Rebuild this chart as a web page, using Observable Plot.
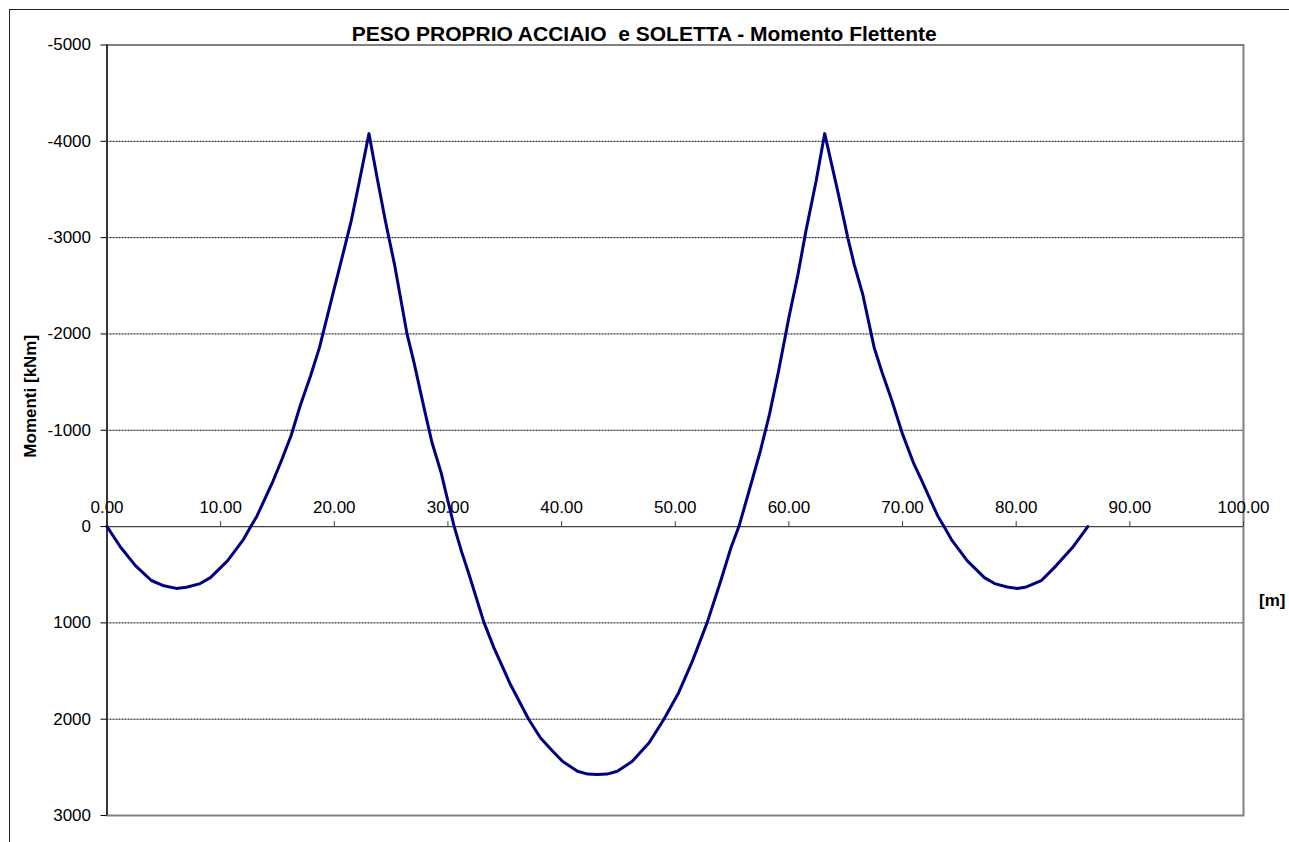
<!DOCTYPE html>
<html>
<head>
<meta charset="utf-8">
<script src="https://cdn.jsdelivr.net/npm/d3@7"></script>
<script src="https://cdn.jsdelivr.net/npm/@observablehq/plot@0.6"></script>
<style>
  html, body { margin: 0; padding: 0; background: #fff; }
  #wrap { position: relative; width: 1289px; height: 842px; overflow: hidden; }
  #outer { position: absolute; left: 9px; top: 9px; width: 1400px; height: 1000px; border: 1px solid #222; box-sizing: border-box; }
  #chart { position: absolute; left: 0; top: 0; }
</style>
</head>
<body>
<div id="wrap"><div id="outer"></div><div id="chart"></div></div>
<script>
// Bending moment under self-weight of steel girder and slab (three-span beam)
const titleText = "PESO PROPRIO ACCIAIO  e SOLETTA - Momento Flettente";
const yLabel = "Momenti [kNm]";
const xLabel = "[m]";

// abscissa along the beam [m]
const positions = [
  0, 1.2, 2.5, 3.9, 5.0, 6.1, 7.0, 8.2, 9.1, 10.6, 12.0, 12.65, 13.2, 13.8, 14.6, 15.4,
  16.2, 17.0, 17.9, 18.7, 19.8, 20.7, 21.5, 22.2, 23.05,
  23.8, 24.5, 25.3, 26.4, 27.0, 27.9, 28.6, 29.4, 29.8, 30.55, 31.2, 31.85, 33.15, 34.05,
  35.5, 37.1, 38.15, 39.2, 40.1, 41.4, 42.3, 43.15, 44.0, 44.9, 46.2, 47.7, 49.0, 50.3,
  51.5, 52.8, 54.0, 54.9, 55.6, 56.4, 57.5, 58.3, 59.1, 60.0, 60.8, 61.5, 62.4, 63.15,
  64.3, 65.2, 65.75, 66.5, 67.5, 68.2, 69.0, 70.0, 71.0, 71.6, 72.5, 73.1, 73.65,
  74.3, 75.7, 77.2, 78.1, 79.2, 80.1, 80.9, 82.2, 83.5, 84.95, 86.3
];
// bending moment [kNm] (negative = hogging)
const moments = [
  0, 215, 405, 560, 615, 642, 630, 592, 530, 357, 135, 0, -110, -265, -470, -700,
  -945, -1255, -1560, -1860, -2380, -2800, -3180, -3580, -4080,
  -3600, -3170, -2720, -2000, -1710, -1230, -870, -560, -360, 0, 260, 495, 990, 1260,
  1640, 2000, 2195, 2330, 2440, 2540, 2570, 2575, 2570, 2540, 2440, 2245, 2000, 1725,
  1400, 1000, 565, 220, 0, -330, -790, -1170, -1620, -2170, -2620, -3070, -3590, -4080,
  -3480, -2990, -2720, -2410, -1860, -1600, -1330, -960, -650, -500, -265, -110, 0,
  135, 357, 530, 592, 628, 642, 627, 562, 408, 218, 0
];

const xTicks = [0, 10, 20, 30, 40, 50, 60, 70, 80, 90, 100];
const yTicks = [-5000, -4000, -3000, -2000, -1000, 0, 1000, 2000, 3000];
const gridLines = [-4000, -3000, -2000, -1000, 1000, 2000];

const data = positions.map((x, i) => ({x, m: moments[i]}));

const chart = Plot.plot({
  width: 1289,
  height: 842,
  marginLeft: 106.5,
  marginRight: 46,
  marginTop: 44.5,
  marginBottom: 27,
  style: {fontFamily: "'Liberation Sans', Arial, sans-serif", fontSize: "17px", background: "transparent", color: "#000"},
  x: {domain: [0, 100], axis: null},
  y: {domain: [-5000, 3000], reverse: true},
  marks: [
    Plot.ruleY(gridLines, {stroke: "#000", strokeWidth: 1, strokeDasharray: "2,1"}),
    Plot.frame({stroke: "#808080", strokeWidth: 2}),
    Plot.ruleY([0], {stroke: "#404040", strokeWidth: 1.2}),
    Plot.ruleX(xTicks, {x: d => d, y1: 0, y2: 0, insetTop: -5, stroke: "#404040"}),
    Plot.text(xTicks, {x: d => d, y: 0, text: d => d.toFixed(2), dy: -14, lineAnchor: "bottom", fontSize: 17, fill: "#000"}),
    Plot.ruleX([0], {stroke: "#222", strokeWidth: 1.6}),
    Plot.axisY(yTicks, {anchor: "left", tickSize: 6, tickPadding: 10, tickFormat: d => String(d), fontSize: 17, color: "#000", label: null}),
    Plot.line(data, {x: "x", y: "m", stroke: "#000080", strokeWidth: 3, strokeLinejoin: "round"}),
    Plot.text([titleText], {frameAnchor: "top", dx: -31, dy: -4.5, lineAnchor: "bottom", fontSize: 21, fontWeight: "bold", fill: "#000"}),
    Plot.text([yLabel], {frameAnchor: "left", textAnchor: "middle", rotate: -90, dx: -76.5, dy: -34, fontSize: 17, fontWeight: "bold", fill: "#000"}),
    Plot.text([xLabel], {frameAnchor: "right", textAnchor: "middle", dx: 28.7, dy: 170, fontSize: 17, fontWeight: "bold", fill: "#000"})
  ]
});
document.getElementById("chart").appendChild(chart);
</script>
</body>
</html>
